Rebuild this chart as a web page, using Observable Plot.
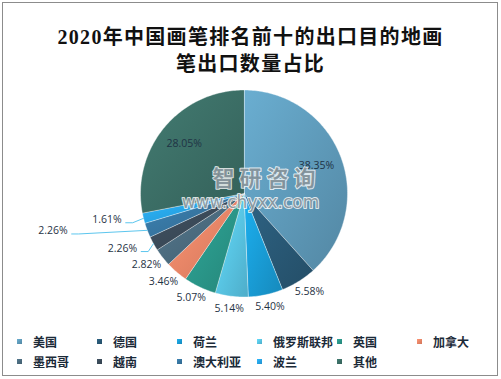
<!DOCTYPE html>
<html><head><meta charset="utf-8">
<script src="https://cdn.jsdelivr.net/npm/d3@7"></script>
<script src="https://cdn.jsdelivr.net/npm/@observablehq/plot@0.6"></script>
<style>
body{margin:0;background:#fff;}
#wrap{position:relative;width:501px;height:379px;overflow:hidden;font-family:"Noto Sans CJK SC",sans-serif;background:#fff;}
#frame{position:absolute;left:2px;top:2px;width:494px;height:372px;border:1px solid #8c8c8c;}
#title{position:absolute;left:0;top:24px;width:501px;text-align:center;font-family:"Liberation Serif","Noto Sans CJK SC",serif;font-weight:bold;font-size:20px;line-height:27px;color:#111;letter-spacing:1.3px;}
#chart{position:absolute;left:0;top:80px;}
.item{position:absolute;font-size:12px;line-height:16px;font-weight:bold;color:#1b2a38;white-space:nowrap;}
.sw{position:absolute;width:5px;height:5px;}
</style></head>
<body>
<div id="wrap">
  <div id="frame"></div>
  <div id="title">2020年中国画笔排名前十的出口目的地画<br>笔出口数量占比</div>
  <div id="chart"></div>
  <div id="legend"></div>
</div>
<script>
// ---- data ----
const names = ["美国","德国","荷兰","俄罗斯联邦","英国","加拿大","墨西哥","越南","澳大利亚","波兰","其他"];
const shares = [38.35, 5.58, 5.40, 5.14, 5.07, 3.46, 2.82, 2.26, 2.26, 1.61, 28.05];
const colors = ["#619fbf","#2a5b79","#1aa1dc","#5bcbec","#2b9b8d","#f4896a","#4d6e82","#3c4c5b","#3879a6","#28a9ef","#3d7168"];
const watermark = ["智研咨询", "www.chyxx.com"];

// ---- layout ----
const W = 501, H = 245, cx = 243.5, cy = 113, r = 103.5;
const toU = (px, py) => [(px - cx) / r, (cy - py) / r];
const arcs = d3.pie().sort(null).value(d => d)(shares);

const wedge = [];
arcs.forEach((a, i) => {
  const n = Math.max(2, Math.ceil((a.endAngle - a.startAngle) * 180 / Math.PI));
  wedge.push({i, x: 0, y: 0});
  for (let k = 0; k <= n; k++) {
    const t = a.startAngle + (a.endAngle - a.startAngle) * k / n;
    wedge.push({i, x: Math.sin(t), y: Math.cos(t)});
  }
});

const labelW = 29, labelH = 12;
const leaderShift = {"越南": [-11, 2], "澳大利亚": [-74, -1.5], "波兰": [-16, 0]};
const labels = [], leaders = [];
arcs.forEach((a, i) => {
  const m = (a.startAngle + a.endAngle) / 2, s = Math.sin(m), c = Math.cos(m);
  const text = shares[i].toFixed(2) + "%";
  if (shares[i] > 20) { labels.push({x: 0.75 * s, y: 0.75 * c, text, anchor: "middle"}); return; }
  const px = cx + (r + 6) * s, py = cy - (r + 6) * c;
  const sh = leaderShift[names[i]];
  if (sh) {
    const ex = px + sh[0], ey = py + sh[1];
    const [ux, uy] = toU(ex, ey);
    labels.push({x: ux, y: uy, text, anchor: "end"});
    const [x0, y0] = toU(ex + 4, ey + 3), [x1, y1] = toU(ex + 11, ey + 3);
    leaders.push({i, x: x0, y: y0}, {i, x: x1, y: y1}, {i, x: s, y: c});
  } else {
    const [ux, uy] = toU(px + s * labelW / 2, py - c * labelH / 2);
    labels.push({x: ux, y: uy, text, anchor: "middle"});
  }
});

const wm = [
  {t: watermark[0], p: toU(266, 98)},
  {t: watermark[1], p: toU(250, 122)}
];

const svg = Plot.plot({
  width: W, height: H, margin: 0,
  x: {domain: [-1, 1], range: [cx - r, cx + r], axis: null},
  y: {domain: [-1, 1], range: [cy + r, cy - r], axis: null},
  color: {type: "identity"},
  style: {background: "transparent", overflow: "visible"},
  marks: [
    Plot.line(wedge, {x: "x", y: "y", z: "i", fill: d => `url(#g${d.i})`, stroke: "#ffffff", strokeOpacity: 0.55, strokeWidth: 0.7, curve: "linear-closed"}),
    Plot.line(leaders, {x: "x", y: "y", z: "i", stroke: "#5cc6ee", strokeWidth: 1}),
    Plot.text(labels, {filter: d => d.anchor === "middle", x: "x", y: "y", text: "text", textAnchor: "middle", fontSize: 10.5, fontFamily: "Open Sans", fill: "#1f3345"}),
    Plot.text(labels, {filter: d => d.anchor === "end", x: "x", y: "y", text: "text", textAnchor: "end", fontSize: 10.5, fontFamily: "Open Sans", fill: "#1f3345"}),
    Plot.text(wm.slice(0, 1), {x: d => d.p[0], y: d => d.p[1], text: "t", fontSize: 22, fontFamily: "Noto Sans CJK SC", fontWeight: "bold", fill: "#7b8a92", fillOpacity: 0.85, stroke: "#ffffff", strokeWidth: 2, strokeOpacity: 0.8}),
    Plot.text(wm.slice(1), {x: d => d.p[0], y: d => d.p[1], text: "t", fontSize: 17, fontFamily: "DejaVu Sans", fill: "#7b8a92", fillOpacity: 0.85, stroke: "#ffffff", strokeWidth: 2, strokeOpacity: 0.8})
  ]
});

// widen the watermark's big characters
svg.querySelectorAll("text").forEach(t => { if (t.textContent === watermark[0]) t.style.letterSpacing = "5px"; });

const ns = "http://www.w3.org/2000/svg";
const defs = document.createElementNS(ns, "defs");
colors.forEach((c, i) => {
  const g = document.createElementNS(ns, "linearGradient");
  g.setAttribute("id", "g" + i);
  g.setAttribute("x1", "0"); g.setAttribute("y1", "0"); g.setAttribute("x2", "1"); g.setAttribute("y2", "1");
  [[0, d3.color(c).brighter(0.25)], [1, d3.color(c).darker(0.45)]].forEach(([o, col]) => {
    const st = document.createElementNS(ns, "stop");
    st.setAttribute("offset", o); st.setAttribute("stop-color", col.formatHex());
    g.appendChild(st);
  });
  defs.appendChild(g);
});
svg.prepend(defs);
document.getElementById("chart").appendChild(svg);

// legend
const leg = document.getElementById("legend");
names.forEach((n, i) => {
  const col = i % 6, row = Math.floor(i / 6);
  const mx = 17 + col * 80, my = 342 + row * 20;
  const sw = document.createElement("div");
  sw.className = "sw";
  sw.style.left = mx + "px"; sw.style.top = (my - 3) + "px";
  sw.style.background = `linear-gradient(135deg, ${d3.color(colors[i]).brighter(0.25).formatHex()}, ${d3.color(colors[i]).darker(0.45).formatHex()})`;
  const tx = document.createElement("div");
  tx.className = "item";
  tx.style.left = (mx + 16) + "px"; tx.style.top = (my - 8) + "px";
  tx.textContent = n;
  leg.appendChild(sw); leg.appendChild(tx);
});
</script>
</body></html>
